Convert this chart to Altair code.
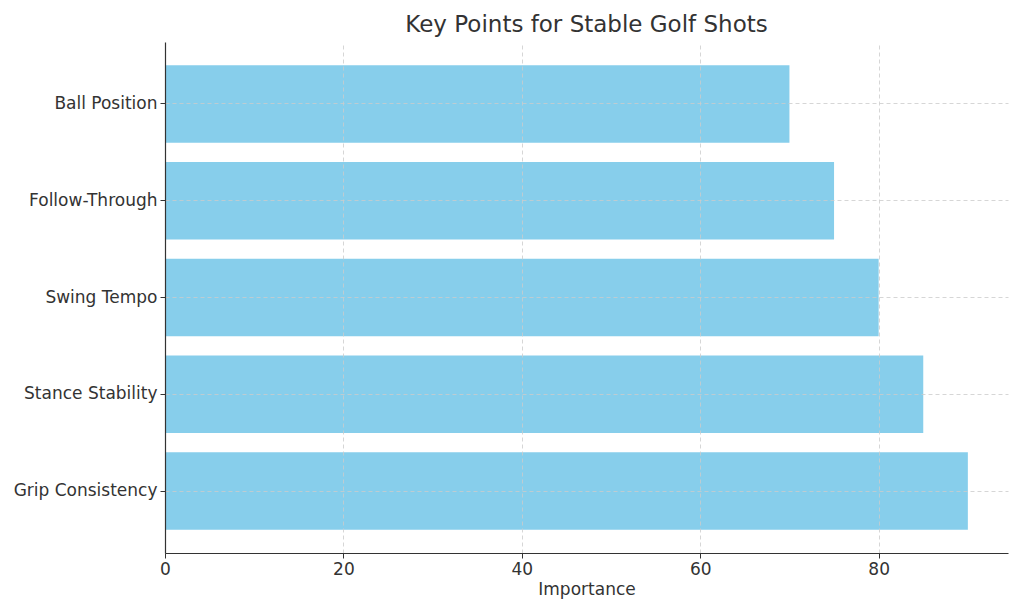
import altair as alt
import pandas as pd

categories = ["Grip Consistency", "Stance Stability", "Swing Tempo", "Follow-Through", "Ball Position"]
values = [90, 85, 80, 75, 70]

df = pd.DataFrame({"Key Point": categories, "Importance": values})
order = list(reversed(categories))

FONT = "DejaVu Sans"

chart = alt.Chart(df).mark_bar(color="#87CEEB").encode(
    x=alt.X(
        "Importance:Q",
        scale=alt.Scale(domain=[0, 94.5], nice=False, zero=True),
        axis=alt.Axis(
            values=[0, 20, 40, 60, 80],
            title="Importance",
            grid=True,
            gridDash=[4, 3],
            gridColor="#cccccc",
            gridWidth=0.8,
            domainColor="#333333",
            domainWidth=1.2,
            tickColor="#333333",
            tickSize=5,
            labelFontSize=17,
            labelColor="#333333",
            labelPadding=3,
            labelFlush=False,
            titleFontSize=17,
            titleFontWeight="normal",
            titleColor="#333333",
            titlePadding=4,
            labelFont=FONT,
            titleFont=FONT,
            zindex=1,
        ),
    ),
    y=alt.Y(
        "Key Point:N",
        sort=order,
        scale=alt.Scale(paddingInner=0.2, paddingOuter=0.24),
        axis=alt.Axis(
            title=None,
            grid=True,
            bandPosition=0.5,
            gridDash=[4, 3],
            gridColor="#cccccc",
            gridWidth=0.8,
            domainColor="#333333",
            domainWidth=1.2,
            tickColor="#333333",
            tickSize=5,
            labelFontSize=17,
            labelColor="#333333",
            labelPadding=3,
            labelFont=FONT,
            zindex=1,
        ),
    ),
).properties(
    width=843,
    height=511,
    title=alt.TitleParams(
        "Key Points for Stable Golf Shots",
        fontSize=23,
        font=FONT,
        fontWeight="normal",
        color="#333333",
        anchor="middle",
        offset=5,
    ),
    autosize=alt.AutoSizeParams(type="none"),
    padding={"left": 165, "top": 42, "right": 16, "bottom": 61},
).configure_view(stroke=None)

chart.save("out.html", embed_options={"renderer": "svg", "actions": False})
